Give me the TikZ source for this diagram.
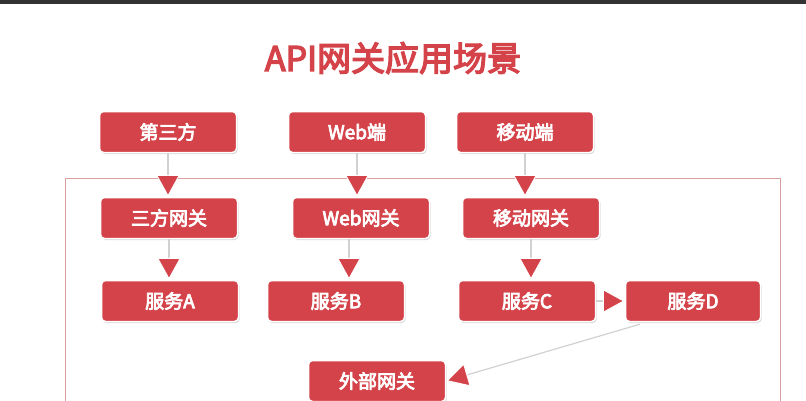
\documentclass[tikz,border=0pt]{standalone}
\usepackage{fontspec}
\setmainfont{Noto Sans CJK SC}[AutoFakeBold=4]
\usetikzlibrary{arrows.meta,shadows}
\definecolor{boxred}{HTML}{D5434A}
\definecolor{framered}{HTML}{D9A0A0}
\tikzset{
  bx/.style={draw=white,line width=1.5pt,fill=boxred,rounded corners=4pt,text=white,font=\bfseries\fontsize{19}{22}\selectfont,minimum width=137pt,minimum height=41pt,inner sep=0pt,drop shadow={shadow xshift=1pt,shadow yshift=-1.5pt,fill=black!35}},
  ar/.style={draw=black!18,line width=1.2pt,-{Triangle[length=22pt,width=24pt,fill=boxred,color=white,line width=1pt]}}
}
\begin{document}
\begin{tikzpicture}[x=1pt,y=-1pt]
\useasboundingbox (0,0) rectangle (806,400);
\fill[black!80] (0,0) rectangle (806,4);
\draw[framered,line width=1pt] (65,410) -- (65,178) -- (780,178) -- (780,410);
\node[text=boxred,font=\bfseries\fontsize{34}{38}\selectfont] (title) at (393,58) {API网关应用场景};
\node[bx] (p3) at (168,132) {第三方};
\node[bx] (web) at (357,132) {Web端};
\node[bx] (mob) at (525,132) {移动端};
\node[bx] (g3) at (169,218) {三方网关};
\node[bx] (gw) at (361,218) {Web网关};
\node[bx] (gm) at (531,218) {移动网关};
\node[bx] (sa) at (170,301) {服务A};
\node[bx] (sb) at (336,301) {服务B};
\node[bx] (sc) at (527,301) {服务C};
\node[bx,minimum width=135pt] (sd) at (693,301) {服务D};
\node[bx] (ext) at (377,381) {外部网关};
\draw[ar] (p3) -- (p3 |- g3.north);
\draw[ar] (web) -- (web |- gw.north);
\draw[ar] (mob) -- (mob |- gm.north);
\draw[ar] (g3) -- (g3 |- sa.north);
\coordinate (gwb) at ([xshift=-12pt]gw.south);
\draw[ar] (gwb) -- (gwb |- sb.north);
\draw[ar] (gm) -- (gm |- sc.north);
\draw[ar] (sc) -- (sd);
\coordinate (sdb) at ([xshift=15pt,yshift=-2pt]sd.south west);
\draw[ar] (sdb) -- (ext.east);
\end{tikzpicture}
\end{document}
